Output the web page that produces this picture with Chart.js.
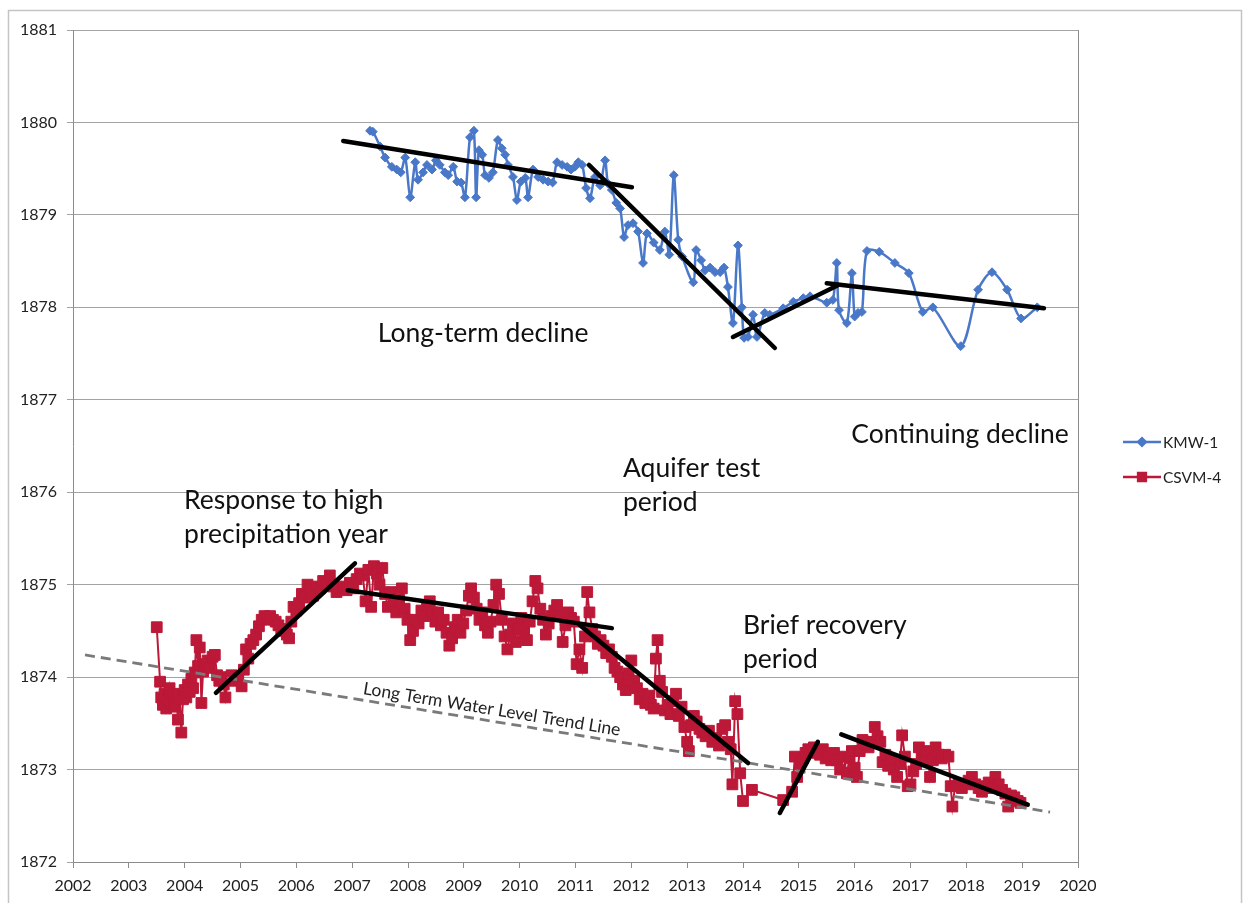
<!DOCTYPE html>
<html>
<head>
<meta charset="utf-8">
<script src="https://cdn.jsdelivr.net/npm/chart.js@4"></script>
<style>
  html, body { margin: 0; padding: 0; background: #ffffff; }
  #wrap { position: relative; width: 1243px; height: 903px; }
</style>
</head>
<body>
<div id="wrap"><canvas id="chart" width="1243" height="903"></canvas></div>
<script>
// ---- axis ticks ----
const yearTicks  = [2002, 2003, 2004, 2005, 2006, 2007, 2008, 2009, 2010, 2011,
                    2012, 2013, 2014, 2015, 2016, 2017, 2018, 2019, 2020];
const levelTicks = [1872, 1873, 1874, 1875, 1876, 1877, 1878, 1879, 1880, 1881];

// ---- KMW-1 water levels ----
const kmwYears = [
  2007.32, 2007.37, 2007.50, 2007.59, 2007.71, 2007.80, 2007.87, 2007.95, 2008.04, 2008.13,
  2008.18, 2008.27, 2008.34, 2008.43, 2008.50, 2008.57, 2008.66, 2008.72, 2008.81, 2008.88,
  2008.95, 2009.02, 2009.11, 2009.18, 2009.22, 2009.27, 2009.33, 2009.38, 2009.45, 2009.52,
  2009.61, 2009.68, 2009.74, 2009.79, 2009.88, 2009.95, 2010.02, 2010.10, 2010.15, 2010.24,
  2010.33, 2010.42, 2010.51, 2010.59, 2010.67, 2010.76, 2010.85, 2010.92, 2010.99, 2011.05,
  2011.12, 2011.19, 2011.26, 2011.35, 2011.44, 2011.53, 2011.58, 2011.65, 2011.73, 2011.80,
  2011.87, 2011.94, 2012.03, 2012.12, 2012.21, 2012.28, 2012.40, 2012.51, 2012.60, 2012.68,
  2012.76, 2012.84, 2012.91, 2013.11, 2013.16, 2013.25, 2013.32, 2013.41, 2013.50, 2013.59,
  2013.66, 2013.73, 2013.82, 2013.91, 2013.98, 2014.02, 2014.09, 2014.18, 2014.25, 2014.39,
  2014.48, 2014.72, 2014.90, 2015.08, 2015.20, 2015.50, 2015.61, 2015.68, 2015.72, 2015.86,
  2015.95, 2016.00, 2016.06, 2016.13, 2016.22, 2016.44, 2016.72, 2016.97, 2017.22, 2017.40,
  2017.90, 2018.21, 2018.46, 2018.73, 2018.98, 2019.27
];
const kmwLevels = [
  1879.91, 1879.90, 1879.74, 1879.62, 1879.52, 1879.49, 1879.46, 1879.62, 1879.19, 1879.57,
  1879.38, 1879.46, 1879.54, 1879.49, 1879.59, 1879.54, 1879.46, 1879.43, 1879.52, 1879.36,
  1879.35, 1879.19, 1879.84, 1879.91, 1879.19, 1879.70, 1879.65, 1879.43, 1879.40, 1879.46,
  1879.81, 1879.72, 1879.65, 1879.54, 1879.41, 1879.16, 1879.36, 1879.40, 1879.19, 1879.49,
  1879.41, 1879.38, 1879.36, 1879.35, 1879.57, 1879.54, 1879.52, 1879.49, 1879.52, 1879.57,
  1879.54, 1879.29, 1879.18, 1879.41, 1879.32, 1879.59, 1879.34, 1879.27, 1879.13, 1879.07,
  1878.76, 1878.89, 1878.91, 1878.82, 1878.48, 1878.80, 1878.70, 1878.62, 1878.82, 1878.57,
  1879.43, 1878.73, 1878.55, 1878.27, 1878.62, 1878.51, 1878.40, 1878.43, 1878.38, 1878.38,
  1878.43, 1878.22, 1877.83, 1878.67, 1878.00, 1877.67, 1877.68, 1877.92, 1877.68, 1877.94,
  1877.92, 1877.99, 1878.06, 1878.10, 1878.12, 1878.05, 1878.08, 1878.48, 1877.97, 1877.83,
  1878.37, 1877.90, 1877.94, 1877.95, 1878.61, 1878.60, 1878.48, 1878.37, 1877.95, 1878.00,
  1877.58, 1878.19, 1878.38, 1878.19, 1877.88, 1878.00
];

// ---- CSVM-4 water levels ----
const csvmYears = [
  2003.50, 2003.56, 2003.58, 2003.61, 2003.64, 2003.67, 2003.70, 2003.73, 2003.76, 2003.79,
  2003.82, 2003.85, 2003.88, 2003.91, 2003.94, 2003.97, 2004.00, 2004.03, 2004.06, 2004.09,
  2004.12, 2004.15, 2004.18, 2004.21, 2004.24, 2004.27, 2004.30, 2004.33, 2004.37, 2004.41,
  2004.45, 2004.50, 2004.54, 2004.58, 2004.62, 2004.66, 2004.70, 2004.73, 2004.78, 2004.84,
  2004.90, 2004.96, 2005.02, 2005.06, 2005.10, 2005.14, 2005.18, 2005.23, 2005.28, 2005.33,
  2005.38, 2005.43, 2005.48, 2005.53, 2005.58, 2005.63, 2005.68, 2005.73, 2005.78, 2005.83,
  2005.87, 2005.91, 2005.95, 2006.00, 2006.05, 2006.10, 2006.15, 2006.20, 2006.25, 2006.30,
  2006.36, 2006.42, 2006.48, 2006.54, 2006.60, 2006.66, 2006.72, 2006.78, 2006.84, 2006.90,
  2006.96, 2007.02, 2007.08, 2007.14, 2007.19, 2007.24, 2007.29, 2007.34, 2007.39, 2007.44,
  2007.49, 2007.54, 2007.59, 2007.64, 2007.69, 2007.74, 2007.79, 2007.84, 2007.89, 2007.94,
  2007.99, 2008.04, 2008.09, 2008.14, 2008.19, 2008.24, 2008.29, 2008.34, 2008.39, 2008.44,
  2008.49, 2008.54, 2008.59, 2008.64, 2008.69, 2008.74, 2008.79, 2008.84, 2008.89, 2008.94,
  2008.99, 2009.04, 2009.09, 2009.13, 2009.18, 2009.23, 2009.28, 2009.33, 2009.38, 2009.43,
  2009.48, 2009.53, 2009.58, 2009.63, 2009.68, 2009.73, 2009.78, 2009.83, 2009.88, 2009.93,
  2009.98, 2010.03, 2010.08, 2010.13, 2010.18, 2010.23, 2010.28, 2010.32, 2010.37, 2010.42,
  2010.47, 2010.52, 2010.57, 2010.62, 2010.67, 2010.72, 2010.77, 2010.82, 2010.87, 2010.92,
  2010.97, 2011.02, 2011.07, 2011.12, 2011.17, 2011.21, 2011.25, 2011.30, 2011.35, 2011.40,
  2011.45, 2011.50, 2011.55, 2011.60, 2011.65, 2011.70, 2011.75, 2011.80, 2011.85, 2011.90,
  2011.95, 2012.00, 2012.05, 2012.10, 2012.15, 2012.20, 2012.25, 2012.30, 2012.35, 2012.40,
  2012.44, 2012.47, 2012.51, 2012.55, 2012.60, 2012.65, 2012.70, 2012.75, 2012.80, 2012.85,
  2012.90, 2012.95, 2013.00, 2013.03, 2013.07, 2013.12, 2013.17, 2013.22, 2013.27, 2013.33,
  2013.39, 2013.45, 2013.51, 2013.57, 2013.63, 2013.68, 2013.73, 2013.78, 2013.81, 2013.86,
  2013.90, 2013.95, 2014.00, 2014.16, 2014.72, 2014.88, 2014.93, 2014.97, 2015.02, 2015.07,
  2015.12, 2015.17, 2015.22, 2015.27, 2015.33, 2015.38, 2015.43, 2015.48, 2015.53, 2015.58,
  2015.63, 2015.68, 2015.74, 2015.80, 2015.86, 2015.91, 2015.95, 2016.00, 2016.04, 2016.09,
  2016.14, 2016.19, 2016.25, 2016.31, 2016.36, 2016.41, 2016.46, 2016.50, 2016.55, 2016.60,
  2016.65, 2016.70, 2016.76, 2016.81, 2016.85, 2016.90, 2016.95, 2017.00, 2017.05, 2017.10,
  2017.15, 2017.20, 2017.25, 2017.30, 2017.35, 2017.40, 2017.45, 2017.50, 2017.56, 2017.62,
  2017.68, 2017.72, 2017.75, 2017.80, 2017.86, 2017.92, 2017.98, 2018.04, 2018.10, 2018.16,
  2018.22, 2018.28, 2018.34, 2018.40, 2018.46, 2018.52, 2018.58, 2018.64, 2018.70, 2018.75,
  2018.80, 2018.86, 2018.92, 2018.97
];
const csvmLevels = [
  1874.54, 1873.95, 1873.78, 1873.70, 1873.82, 1873.66, 1873.75, 1873.88, 1873.72, 1873.80,
  1873.68, 1873.78, 1873.54, 1873.82, 1873.40, 1873.76, 1873.86, 1873.78, 1873.92, 1873.84,
  1873.98, 1873.88, 1874.05, 1874.40, 1874.12, 1874.32, 1873.72, 1874.06, 1874.14, 1874.18,
  1874.10, 1874.22, 1874.24, 1874.02, 1873.96, 1874.00, 1873.92, 1873.78, 1873.98, 1874.02,
  1873.96, 1874.00, 1873.90, 1874.08, 1874.30, 1874.20, 1874.36, 1874.40, 1874.46, 1874.55,
  1874.62, 1874.66, 1874.64, 1874.66, 1874.62, 1874.60, 1874.56, 1874.52, 1874.50, 1874.46,
  1874.42, 1874.60, 1874.76, 1874.72, 1874.80, 1874.90, 1874.86, 1875.00, 1874.95, 1874.88,
  1874.98, 1874.96, 1875.04, 1875.00, 1875.10, 1874.98, 1874.92, 1874.96, 1874.98, 1874.94,
  1875.02, 1874.96, 1875.06, 1875.12, 1875.10, 1874.82, 1875.16, 1874.76, 1875.20, 1875.12,
  1875.00, 1875.18, 1874.90, 1874.76, 1874.92, 1874.78, 1874.70, 1874.84, 1874.96, 1874.74,
  1874.62, 1874.40, 1874.50, 1874.62, 1874.58, 1874.72, 1874.66, 1874.78, 1874.82, 1874.70,
  1874.60, 1874.70, 1874.56, 1874.62, 1874.48, 1874.34, 1874.42, 1874.54, 1874.62, 1874.48,
  1874.58, 1874.72, 1874.88, 1874.96, 1874.86, 1874.74, 1874.62, 1874.70, 1874.56, 1874.48,
  1874.60, 1874.78, 1875.00, 1874.90, 1874.62, 1874.44, 1874.30, 1874.46, 1874.58, 1874.38,
  1874.52, 1874.64, 1874.50, 1874.40, 1874.60, 1874.82, 1875.04, 1874.96, 1874.74, 1874.62,
  1874.46, 1874.58, 1874.66, 1874.72, 1874.78, 1874.66, 1874.38, 1874.56, 1874.70, 1874.64,
  1874.60, 1874.14, 1874.30, 1874.10, 1874.44, 1874.92, 1874.70, 1874.52, 1874.44, 1874.36,
  1874.40, 1874.34, 1874.26, 1874.30, 1874.22, 1874.10, 1874.06, 1874.00, 1873.92, 1873.86,
  1874.04, 1874.18, 1873.96, 1873.88, 1873.76, 1873.82, 1873.72, 1873.80, 1873.70, 1873.66,
  1874.20, 1874.40, 1873.96, 1873.84, 1873.64, 1873.70, 1873.60, 1873.74, 1873.82, 1873.58,
  1873.68, 1873.46, 1873.30, 1873.20, 1873.48, 1873.58, 1873.52, 1873.44, 1873.40, 1873.36,
  1873.42, 1873.30, 1873.34, 1873.26, 1873.44, 1873.48, 1873.30, 1873.22, 1872.84, 1873.74,
  1873.60, 1872.96, 1872.66, 1872.78, 1872.67, 1872.76, 1873.14, 1872.92, 1873.06, 1873.12,
  1873.18, 1873.22, 1873.20, 1873.24, 1873.18, 1873.16, 1873.22, 1873.12, 1873.14, 1873.10,
  1873.18, 1873.10, 1873.00, 1873.14, 1872.96, 1873.12, 1873.20, 1873.02, 1872.92, 1873.20,
  1873.32, 1873.28, 1873.24, 1873.30, 1873.46, 1873.36, 1873.30, 1873.08, 1873.16, 1873.04,
  1873.10, 1873.00, 1872.92, 1873.06, 1873.37, 1873.14, 1872.82, 1872.84, 1872.98, 1873.06,
  1873.24, 1873.18, 1873.12, 1873.20, 1872.92, 1873.10, 1873.24, 1873.16, 1873.12, 1873.16,
  1873.14, 1872.82, 1872.60, 1872.82, 1872.84, 1872.80, 1872.84, 1872.88, 1872.92, 1872.84,
  1872.80, 1872.76, 1872.82, 1872.86, 1872.80, 1872.92, 1872.84, 1872.78, 1872.74, 1872.60,
  1872.72, 1872.70, 1872.66, 1872.64
];

// ---- interpreted trend segments: start year, start level, end year, end level ----
const trendStartYears  = [2006.84, 2011.24, 2013.82, 2015.50, 2004.56, 2006.92, 2011.08, 2014.66, 2015.76];
const trendStartLevels = [1879.80, 1879.54, 1877.68, 1878.26, 1873.83, 1874.94, 1874.56, 1872.53, 1873.38];
const trendEndYears    = [2012.01, 2014.57, 2015.70, 2019.39, 2007.05, 2011.65, 2014.09, 2015.34, 2019.10];
const trendEndLevels   = [1879.30, 1877.56, 1878.24, 1877.99, 1875.23, 1874.53, 1873.07, 1873.30, 1872.62];

// ---- long term water level trend (dashed) ----
const longTermYears  = [2002.215, 2019.50];
const longTermLevels = [1874.24, 1872.54];
const longTermLabel  = 'Long Term Water Level Trend Line';

// ---- annotation text ----
const noteTexts = [
  ['Long-term decline'],
  ['Continuing decline'],
  ['Aquifer test', 'period'],
  ['Response to high', 'precipitation year'],
  ['Brief recovery', 'period']
];

// ---------------------------------------------------------------
const FONT = 'Lato, "Open Sans", sans-serif';
const BLUE = '#4A78C8';
const RED = '#BC1838';
const GRID = '#A3A3A3';
const AXIS = '#8C8C8C';

// where each note sits (year of left edge, level of first line's centre)
const notePlaces = [
  { x: 2007.46, y: 1877.72 },
  { x: 2015.94, y: 1876.63 },
  { x: 2011.85, y: 1876.26 },
  { x: 2003.99, y: 1875.91 },
  { x: 2014.00, y: 1874.56 }
];
const NOTE_LINE_GAP = 34;
const TREND_LABEL_YEAR = 2009.47;

const toPoints = (xs, ys) => xs.map((x, i) => ({ x, y: ys[i] }));

const datasets = [
  {
    label: 'KMW-1',
    data: toPoints(kmwYears, kmwLevels),
    borderColor: BLUE,
    backgroundColor: BLUE,
    borderWidth: 2.5,
    pointStyle: 'rectRot',
    pointRadius: 4.4,
    pointBorderWidth: 1,
    tension: 0.3,
    order: 4
  },
  {
    label: 'CSVM-4',
    data: toPoints(csvmYears, csvmLevels),
    borderColor: RED,
    backgroundColor: RED,
    borderWidth: 2,
    pointStyle: 'rect',
    pointRadius: 7.6,
    pointBorderWidth: 1,
    tension: 0,
    order: 3
  },
  {
    label: 'trend',
    data: toPoints(longTermYears, longTermLevels),
    borderColor: '#7A7A7A',
    borderWidth: 2.8,
    borderDash: [10, 6],
    pointRadius: 0,
    tension: 0,
    order: 2
  }
];

trendStartYears.forEach((x0, i) => {
  datasets.push({
    label: 'segment' + i,
    data: [{ x: x0, y: trendStartLevels[i] }, { x: trendEndYears[i], y: trendEndLevels[i] }],
    borderColor: '#000000',
    borderWidth: 4.5,
    borderCapStyle: 'round',
    pointRadius: 0,
    tension: 0,
    order: 1
  });
});

// chart frame behind everything
const framePlugin = {
  id: 'frame',
  beforeDraw(chart) {
    const ctx = chart.ctx;
    ctx.save();
    ctx.fillStyle = '#ffffff';
    ctx.fillRect(0, 0, chart.width, chart.height);
    ctx.strokeStyle = '#C4C4C4';
    ctx.lineWidth = 1.5;
    ctx.strokeRect(8.5, 10.5, 1233, 900);
    ctx.restore();
  }
};

// text notes and the label along the dashed trend
const notesPlugin = {
  id: 'notes',
  afterDatasetsDraw(chart) {
    const { ctx, scales: { x, y } } = chart;
    ctx.save();
    ctx.fillStyle = '#111111';
    ctx.font = '26.5px ' + FONT;
    ctx.textAlign = 'left';
    ctx.textBaseline = 'middle';
    noteTexts.forEach((lines, i) => {
      const px = x.getPixelForValue(notePlaces[i].x);
      const py = y.getPixelForValue(notePlaces[i].y);
      lines.forEach((t, j) => ctx.fillText(t, px, py + j * NOTE_LINE_GAP));
    });

    const x1 = x.getPixelForValue(longTermYears[0]);
    const y1 = y.getPixelForValue(longTermLevels[0]);
    const x2 = x.getPixelForValue(longTermYears[1]);
    const y2 = y.getPixelForValue(longTermLevels[1]);
    const ang = Math.atan2(y2 - y1, x2 - x1);
    const tx = x.getPixelForValue(TREND_LABEL_YEAR);
    const ty = y1 + (tx - x1) * (y2 - y1) / (x2 - x1);
    ctx.translate(tx, ty);
    ctx.rotate(ang);
    ctx.font = '17.5px ' + FONT;
    ctx.fillStyle = '#222222';
    ctx.textAlign = 'center';
    ctx.textBaseline = 'bottom';
    ctx.fillText(longTermLabel, 0, -3);
    ctx.restore();
  }
};

// legend: line with marker, then series name
const legendPlugin = {
  id: 'seriesKey',
  afterDraw(chart) {
    const ctx = chart.ctx;
    const rows = [442, 477];
    ctx.save();
    [0, 1].forEach((di, r) => {
      const ds = chart.data.datasets[di];
      const yy = rows[r];
      ctx.strokeStyle = ds.borderColor;
      ctx.lineWidth = 2.5;
      ctx.beginPath();
      ctx.moveTo(1123, yy);
      ctx.lineTo(1161, yy);
      ctx.stroke();
      ctx.fillStyle = ds.backgroundColor;
      Chart.helpers.drawPoint(ctx, {
        pointStyle: ds.pointStyle,
        radius: di === 0 ? 3.8 : 5.5,
        rotation: 0,
        borderWidth: 1
      }, 1142, yy);
      ctx.fillStyle = '#222222';
      ctx.font = '15.5px ' + FONT;
      ctx.textBaseline = 'middle';
      ctx.textAlign = 'left';
      ctx.fillText(ds.label, 1163, yy + 1);
    });
    ctx.restore();
  }
};

new Chart(document.getElementById('chart'), {
  type: 'line',
  data: { datasets },
  plugins: [framePlugin, notesPlugin, legendPlugin],
  options: {
    responsive: false,
    animation: false,
    events: [],
    layout: { padding: { left: 0, right: 165, top: 30, bottom: 0 } },
    plugins: { legend: { display: false }, tooltip: { enabled: false } },
    scales: {
      x: {
        type: 'linear',
        min: yearTicks[0],
        max: yearTicks[yearTicks.length - 1],
        afterBuildTicks: s => { s.ticks = yearTicks.map(v => ({ value: v })); },
        afterFit: s => { s.height = 41; },
        ticks: {
          callback: v => String(v),
          color: '#222222',
          font: { family: FONT, size: 16 },
          padding: 8,
          maxRotation: 0,
          autoSkip: false
        },
        grid: {
          drawOnChartArea: true,
          color: c => (c.tick && c.tick.value === 2020 ? AXIS : 'rgba(0,0,0,0)'),
          tickColor: AXIS,
          tickLength: 6,
          lineWidth: 1
        },
        border: { display: true, color: AXIS, width: 1 }
      },
      y: {
        type: 'linear',
        min: levelTicks[0],
        max: levelTicks[levelTicks.length - 1],
        afterBuildTicks: s => { s.ticks = levelTicks.map(v => ({ value: v })); },
        afterFit: s => { s.width = 73; },
        ticks: {
          callback: v => String(v),
          color: '#222222',
          font: { family: FONT, size: 16 },
          padding: 10
        },
        grid: {
          color: GRID,
          tickColor: GRID,
          tickLength: 6,
          lineWidth: 1
        },
        border: { display: true, color: AXIS, width: 1 }
      }
    }
  }
});
</script>
</body>
</html>
